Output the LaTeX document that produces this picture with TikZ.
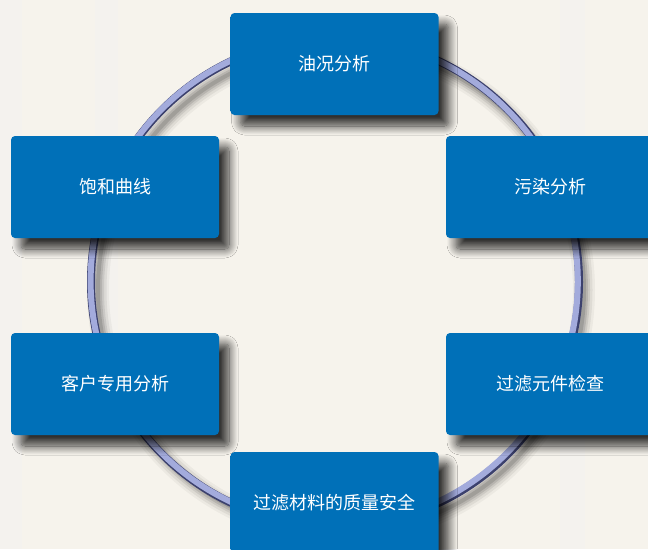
\documentclass[tikz,border=0pt]{standalone}
\usepackage{fontspec}
\newfontfamily\cjk{Noto Sans CJK SC}
\usetikzlibrary{shadows.blur,calc}
\definecolor{bgcol}{HTML}{F6F3EC}
\definecolor{ringlight}{HTML}{A3ABDC}
\definecolor{ringdark}{HTML}{3C416E}
\pgfdeclareverticalshading{panelshade}{100bp}{
  rgb(0bp)=(0.0,0.30,0.52);
  rgb(4bp)=(0.0,0.40,0.66);
  rgb(9bp)=(0.0,0.44,0.72);
  rgb(94bp)=(0.0,0.44,0.72);
  rgb(98bp)=(0.12,0.52,0.78);
  rgb(100bp)=(0.20,0.56,0.80)}
\tikzset{
  panel/.style={rectangle, rounded corners=4pt, minimum width=208pt, minimum height=102pt,
    inner sep=0pt, shading=panelshade,
    blur shadow={shadow xshift=10pt, shadow yshift=-11pt, shadow blur radius=9pt, shadow opacity=80, shadow blur steps=14},
    text=white, font=\cjk\fontsize{18}{20}\selectfont},
}
\begin{document}
\begin{tikzpicture}[x=1pt,y=-1pt]
\useasboundingbox (0,0) rectangle (648,549);
\clip (0,0) rectangle (648,549);
\fill[bgcol] (0,0) rectangle (648,549);
% faint background streaks
\fill[black!5,opacity=0.4] (0,0) rectangle (22,549);
\fill[black!5,opacity=0.4] (95,0) rectangle (118,330);
\fill[black!5,opacity=0.4] (560,0) rectangle (585,549);
\coordinate (c) at (335,282);
% ring shadow
\foreach \w/\o in {22/0.04,17/0.06,12/0.08,8/0.10,4/0.12}
  \draw[black,opacity=\o,line width=\w pt] ($(c)+(6,8)$) circle[radius=243];
% ring
\draw[ringdark,line width=8pt] (c) circle[radius=244];
\draw[ringlight,line width=6pt] ($(c)+(-0.8,-0.8)$) circle[radius=243.6];
% panels
\node[panel] (oil) at (334.5,64) {油况分析};
\node[panel] (sat) at (115,187) {饱和曲线};
\node[panel] (pol) at (550,187) {污染分析};
\node[panel] (cus) at (115,384) {客户专用分析};
\node[panel] (fel) at (550,384) {过滤元件检查};
\node[panel] (fmat) at (334.5,503) {过滤材料的质量安全};
\end{tikzpicture}
\end{document}
